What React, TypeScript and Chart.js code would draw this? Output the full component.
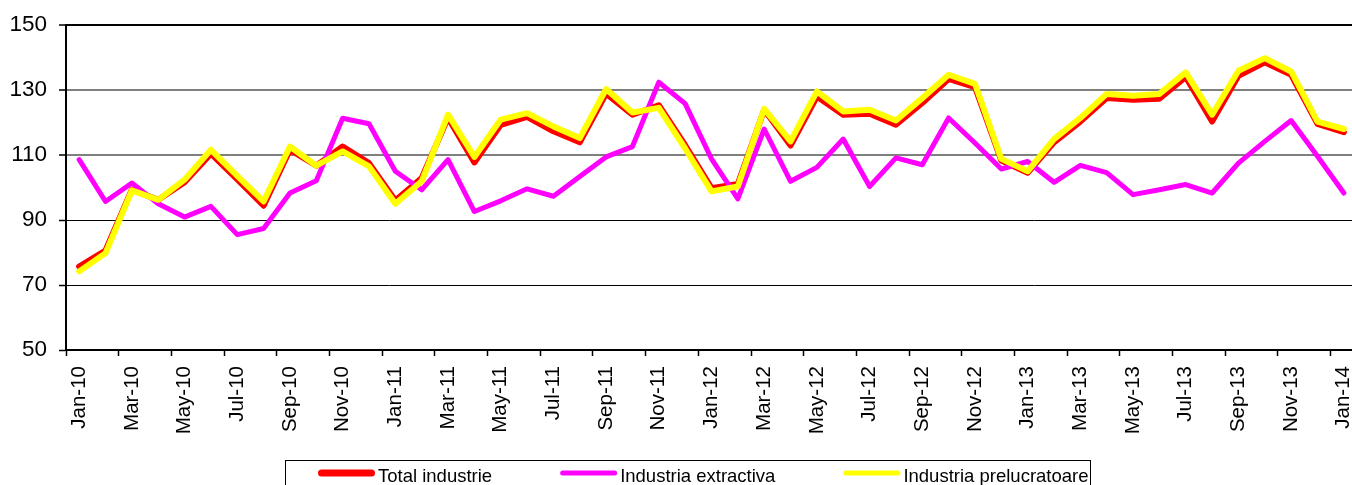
import React, { useEffect, useRef } from 'react';
import { Chart, registerables } from 'chart.js';

Chart.register(...registerables);

const categories = [
  'Jan-10', 'Feb-10', 'Mar-10', 'Apr-10', 'May-10', 'Jun-10', 'Jul-10', 'Aug-10', 'Sep-10', 'Oct-10', 'Nov-10', 'Dec-10',
  'Jan-11', 'Feb-11', 'Mar-11', 'Apr-11', 'May-11', 'Jun-11', 'Jul-11', 'Aug-11', 'Sep-11', 'Oct-11', 'Nov-11', 'Dec-11',
  'Jan-12', 'Feb-12', 'Mar-12', 'Apr-12', 'May-12', 'Jun-12', 'Jul-12', 'Aug-12', 'Sep-12', 'Oct-12', 'Nov-12', 'Dec-12',
  'Jan-13', 'Feb-13', 'Mar-13', 'Apr-13', 'May-13', 'Jun-13', 'Jul-13', 'Aug-13', 'Sep-13', 'Oct-13', 'Nov-13', 'Dec-13',
  'Jan-14',
];

const totalIndustrie = [
  75.7, 80.6, 99.3, 96.2, 101.6, 110.4, 102.5, 94.4, 111.6, 106.7, 112.6, 107.5,
  96.0, 102.9, 121.5, 107.7, 119.3, 121.7, 117.3, 113.9, 128.9, 122.4, 125.3, 113.0,
  99.8, 101.1, 123.9, 112.9, 128.0, 122.4, 122.7, 119.3, 126.0, 133.4, 130.9, 108.3,
  104.5, 113.9, 120.3, 127.5, 127.0, 127.3, 134.0, 120.3, 134.4, 138.5, 134.7, 119.6,
  117.0,
];

const industriaExtractiva = [
  108.6, 95.7, 101.4, 95.0, 90.9, 94.2, 85.5, 87.4, 98.3, 102.1, 121.3, 119.6,
  105.0, 99.3, 108.6, 92.6, 95.9, 99.6, 97.3, 103.4, 109.4, 112.6, 132.4, 125.8,
  108.8, 96.5, 118.0, 101.9, 106.2, 114.9, 100.3, 109.1, 107.0, 121.4, 113.7, 105.7,
  108.0, 101.6, 106.8, 104.6, 97.8, 99.3, 100.9, 98.3, 107.5, 114.2, 120.6, 109.6,
  98.3,
];

const industriaPrelucratoare = [
  74.2, 79.8, 99.1, 96.2, 102.4, 111.6, 103.6, 95.7, 112.6, 106.7, 111.1, 106.5,
  95.0, 101.9, 122.4, 109.4, 120.9, 122.9, 118.8, 115.2, 130.3, 123.1, 124.5, 112.0,
  98.8, 100.3, 124.2, 114.2, 129.6, 123.4, 123.9, 120.6, 127.5, 134.7, 131.9, 108.8,
  105.0, 114.9, 121.4, 128.8, 128.2, 128.8, 135.4, 122.4, 135.9, 139.8, 135.7, 120.3,
  118.0,
];

const yTickValues = [50, 70, 90, 110, 130, 150];

const seriesLabels = ['Total industrie', 'Industria extractiva', 'Industria prelucratoare'];

const FONT = '"Liberation Sans", Arial, Helvetica, sans-serif';

const boxedLegend = {
  id: 'boxedLegend',
  afterDraw(chart: any) {
    const ctx = chart.ctx as CanvasRenderingContext2D;
    ctx.save();
    const left = 285;
    const top = 460;
    const right = 1090;
    const bottom = 499;
    ctx.strokeStyle = '#000';
    ctx.lineWidth = 1;
    ctx.strokeRect(left + 0.5, top + 0.5, right - left, bottom - top);
    ctx.font = `18.5px ${FONT}`;
    ctx.textAlign = 'left';
    ctx.textBaseline = 'alphabetic';
    const sampleLen = 57;
    const gap = 3;
    const itemGap = 68;
    const sampleY = 473;
    let x = 318;
    chart.data.datasets.forEach((ds: any) => {
      const w = ds.legendLineWidth || 6;
      ctx.strokeStyle = ds.borderColor;
      ctx.lineWidth = w;
      ctx.lineCap = 'round';
      ctx.beginPath();
      ctx.moveTo(x + w / 2, sampleY);
      ctx.lineTo(x + sampleLen - w / 2, sampleY);
      ctx.stroke();
      ctx.fillStyle = '#000';
      const tx = x + sampleLen + gap;
      ctx.fillText(ds.label, tx, 481.5);
      x = tx + ctx.measureText(ds.label).width + itemGap;
    });
    ctx.restore();
  },
};

export default function App() {
  const canvasRef = useRef<HTMLCanvasElement | null>(null);

  useEffect(() => {
    const canvas = canvasRef.current;
    if (!canvas) return;
    const chart = new Chart(canvas, {
      type: 'line',
      data: {
        labels: categories,
        datasets: [
          {
            label: seriesLabels[0],
            data: totalIndustrie,
            borderColor: '#FF0000',
            backgroundColor: '#FF0000',
            borderWidth: 6,
            legendLineWidth: 7,
            order: 3,
          } as any,
          {
            label: seriesLabels[1],
            data: industriaExtractiva,
            borderColor: '#FF00FF',
            backgroundColor: '#FF00FF',
            borderWidth: 5,
            legendLineWidth: 5,
            order: 2,
          } as any,
          {
            label: seriesLabels[2],
            data: industriaPrelucratoare,
            borderColor: '#FFFF00',
            backgroundColor: '#FFFF00',
            borderWidth: 6,
            legendLineWidth: 5,
            order: 1,
          } as any,
        ],
      },
      options: {
        animation: false,
        responsive: false,
        devicePixelRatio: 1,
        layout: { padding: { top: 25, left: 0, right: 13, bottom: 0 } },
        elements: {
          line: { tension: 0, borderJoinStyle: 'round', borderCapStyle: 'round', fill: false },
          point: { radius: 0, hoverRadius: 0 },
        },
        plugins: {
          legend: { display: false },
          tooltip: { enabled: false },
          title: { display: false },
        },
        scales: {
          x: {
            type: 'category',
            offset: true,
            grid: {
              offset: true,
              drawOnChartArea: false,
              drawTicks: true,
              tickLength: 6,
              tickWidth: 1.5,
              tickColor: (c: any) => (c.index % 2 === 0 ? '#000' : 'rgba(0,0,0,0)'),
            },
            border: { display: true, color: '#000', width: 2 },
            ticks: {
              autoSkip: false,
              maxRotation: 90,
              minRotation: 90,
              padding: 10,
              color: '#000',
              font: { family: FONT, size: 20.5 },
              callback: function (this: any, v: any, i: number) {
                return i % 2 === 0 ? this.getLabelForValue(v) : '';
              },
            },
            afterFit: (s: any) => {
              s.height = 150;
              s.paddingLeft = 0;
              s.paddingRight = 0;
            },
          },
          y: {
            type: 'linear',
            min: 50,
            max: 150,
            afterBuildTicks: (s: any) => {
              s.ticks = yTickValues.map((v) => ({ value: v }));
            },
            ticks: {
              padding: 12,
              color: '#000',
              font: { family: FONT, size: 22.5 },
            },
            grid: {
              drawTicks: true,
              tickLength: 7,
              tickWidth: 1.5,
              tickColor: '#000',
              color: (c: any) => {
                const v = c.tick ? c.tick.value : 0;
                if (v === 110 || v === 130) return '#7f7f7f';
                if (v === 50) return 'rgba(0,0,0,0)';
                return '#000';
              },
              lineWidth: (c: any) => {
                const v = c.tick ? c.tick.value : 0;
                if (v === 110 || v === 130 || v === 150) return 2;
                return 1;
              },
            },
            border: { display: true, color: '#000', width: 2 },
            afterFit: (s: any) => {
              s.width = 66;
              s.paddingTop = 0;
              s.paddingBottom = 0;
            },
          },
        },
      } as any,
      plugins: [boxedLegend],
    });
    return () => chart.destroy();
  }, []);

  return (
    <div
      style={{
        position: 'fixed',
        left: 0,
        top: 0,
        width: 1352,
        height: 485,
        overflow: 'hidden',
        background: '#fff',
      }}
    >
      <canvas ref={canvasRef} width={1370} height={500} style={{ display: 'block', width: 1370, height: 500 }} />
    </div>
  );
}
